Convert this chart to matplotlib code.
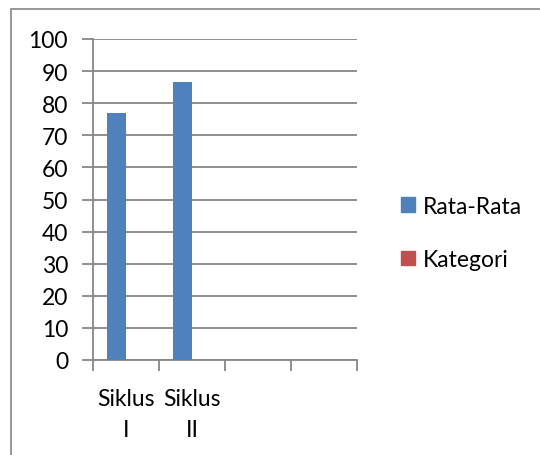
import matplotlib
matplotlib.use("Agg")
import matplotlib.pyplot as plt
from matplotlib.patches import Rectangle, Patch

categories = ["Siklus\nI", "Siklus\nII", "", ""]
rata_rata = [77, 86.7, None, None]
kategori = [None, None, None, None]
series_names = ["Rata-Rata", "Kategori"]
yticks = list(range(0, 101, 10))

plt.rcParams['font.family'] = ['Lato', 'DejaVu Sans']
W, H = 540, 456
FS = 16.5
fig = plt.figure(figsize=(W/100, H/100), dpi=100)
ax = fig.add_axes([93/W, 1 - 361/H, (357-93)/W, (361-40)/H])

gridc = '#868686'
n = len(categories)
bw = 1 / 3.5
xs = list(range(n))
v1 = [v if v is not None else 0 for v in rata_rata]
v2 = [v if v is not None else 0 for v in kategori]
ax.bar([x - bw/2 for x in xs], v1, width=bw, color='#4F81BD', zorder=3)
ax.bar([x + bw/2 for x in xs], v2, width=bw, color='#C0504D', zorder=3)

ax.set_xlim(-0.5, n - 0.5)
ax.set_ylim(0, 100)
ax.set_yticks(yticks)
ax.set_yticklabels([str(t) for t in yticks], fontsize=FS)
ax.yaxis.grid(True, color=gridc, linewidth=1.3, zorder=0)
ax.set_xticks([x - 0.5 for x in range(n + 1)])
ax.set_xticklabels([])
ax.set_xticks(xs, minor=True)
ax.set_xticklabels(categories, minor=True, fontsize=FS, linespacing=1.6)
ax.tick_params(axis='x', which='minor', length=0, pad=20)
ax.tick_params(axis='x', which='major', length=8, color=gridc, width=1.3)
ax.tick_params(axis='y', length=8, color=gridc, width=1.3, pad=10)
for s in ['top', 'right']:
    ax.spines[s].set_visible(False)
for s in ['left', 'bottom']:
    ax.spines[s].set_color(gridc)
    ax.spines[s].set_linewidth(1.3)

handles = [Patch(color='#4F81BD'), Patch(color='#C0504D')]
leg = fig.legend(handles, series_names, loc='center left',
                 bbox_to_anchor=(380/W, 1 - 234/H), frameon=False,
                 fontsize=FS, handlelength=0.62, handleheight=0.62,
                 handletextpad=0.35, labelspacing=1.4)

fig.patches.append(Rectangle((11/W, -0.1), 1.2, 1 - 10/H + 0.1,
                             transform=fig.transFigure, fill=False,
                             edgecolor='#868686', linewidth=1.2))
fig.savefig("out.png", dpi=100)
